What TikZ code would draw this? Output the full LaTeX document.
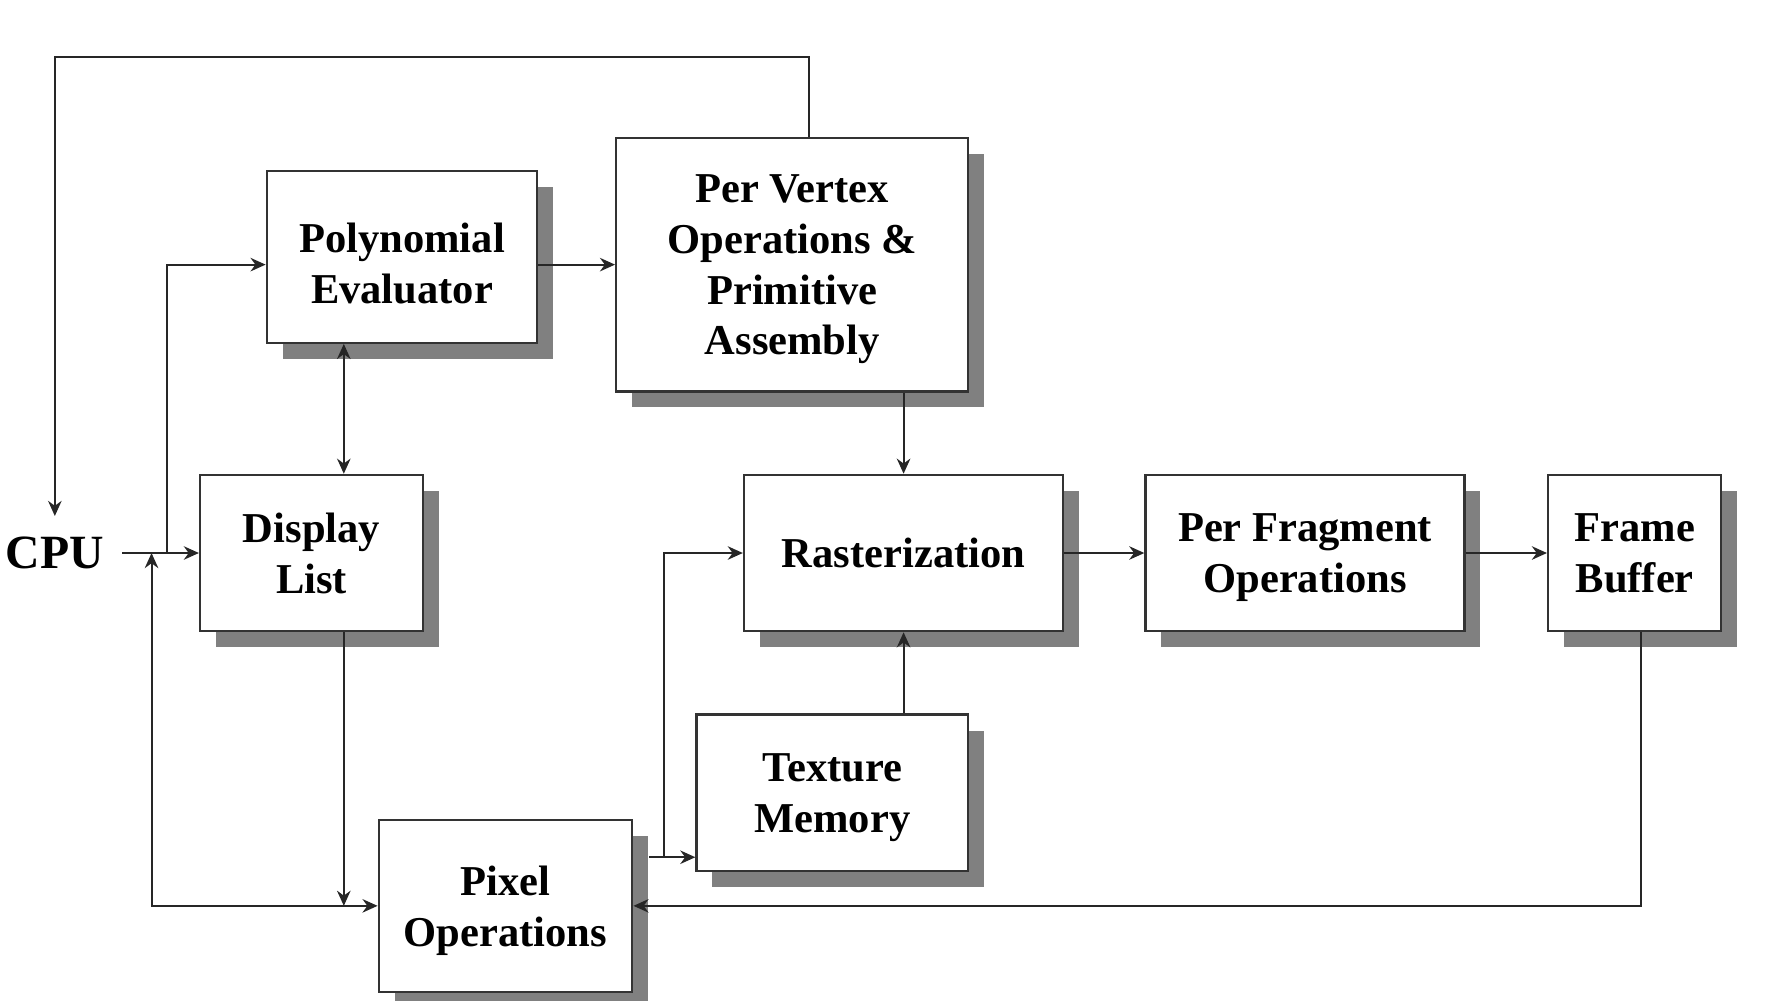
\documentclass[tikz,border=0pt]{standalone}
\usepackage{fontspec}
\setmainfont{Liberation Serif}
\usetikzlibrary{
    arrows.meta,   % For modern arrow tips
    shadows        % For the drop shadows behind the blocks
}

\begin{document}
\begin{tikzpicture}[
    x=0.01cm, y=-0.01cm, % One unit per pixel, y grows downwards
    font=\bfseries\fontsize{10.7}{12.8}\selectfont,
    block_style/.style={draw=black!80, line width=0.6pt, fill=white, align=center, inner sep=0pt, text depth=0pt,
        drop shadow={shadow xshift=0.14cm, shadow yshift=-0.14cm, fill=black!50, opacity=1}},
    line_style/.style={draw=black!85, line width=0.5pt, -{Stealth[length=3.8pt,width=3.4pt]}},
    both_style/.style={line_style, {Stealth[length=3.8pt,width=3.4pt]}-{Stealth[length=3.8pt,width=3.4pt]}}
]
    \useasboundingbox (0,0) rectangle (1566,885);

    % Blocks of the pipeline
    \node[block_style, minimum width=2.39cm, minimum height=1.52cm] (poly) at (355.5,227) {\rule{0pt}{10.6pt}Polynomial\\Evaluator};
    \node[block_style, minimum width=3.11cm, minimum height=2.24cm] (vertex) at (700.5,234) {Per Vertex\\Operations \&\\Primitive\\Assembly};
    \node[block_style, minimum width=1.97cm, minimum height=1.38cm] (dlist) at (275.5,489) {Display\\List};
    \node[block_style, minimum width=2.82cm, minimum height=1.38cm] (raster) at (799,489) {Rasterization};
    \node[block_style, minimum width=2.82cm, minimum height=1.38cm] (frag) at (1154,489) {Per Fragment\\Operations};
    \node[block_style, minimum width=1.53cm, minimum height=1.38cm] (fbuf) at (1445.5,489) {Frame\\Buffer};
    \node[block_style, minimum width=2.40cm, minimum height=1.38cm] (tex) at (736,701) {Texture\\Memory};
    \node[block_style, minimum width=2.24cm, minimum height=1.52cm] (pixel) at (447,801) {Pixel\\Operations};
    \node[font=\bfseries\fontsize{12}{14}\selectfont, minimum height=0.64cm, inner xsep=0.155cm] (cpu) at (48.5,489) {CPU};

    % Corner and branch points
    \coordinate (top) at (48.5,50);
    \coordinate (split) at (148,489);
    \coordinate (ret) at (134,489);
    \coordinate (pixout) at (574,758);
    \coordinate (fork) at (587,758);

    % Inputs from the CPU
    \draw[line_style] (cpu.east) -- (dlist.west);
    \draw[line_style] (split) |- (poly.west |- vertex.west);
    \draw[line_style] (poly.east |- vertex.west) -- (vertex.west);
    \draw[both_style] ([xshift=0.285cm]dlist.north) -- ([xshift=0.285cm]dlist.north |- poly.south);

    % Feedback to the CPU
    \draw[line_style] ([xshift=0.145cm]vertex.north) |- (top) -- (cpu.north);

    % Geometry and fragment path
    \draw[line_style] (vertex.south -| raster.north) -- (raster.north);
    \draw[line_style] (raster.east) -- (frag.west);
    \draw[line_style] (frag.east) -- (fbuf.west);
    \draw[line_style] (tex.north -| raster.south) -- (raster.south);

    % Pixel path
    \draw[line_style] ([xshift=0.285cm]dlist.south) -- ([xshift=0.285cm]dlist.south |- pixel.west);
    \draw[both_style] (ret) |- (pixel.west);
    \draw[line_style] (pixout) -- (pixout -| tex.west);
    \draw[line_style] (fork) |- (raster.west);
    \draw[line_style] ([xshift=0.055cm]fbuf.south) |- (pixel.east);

\end{tikzpicture}
\end{document}
